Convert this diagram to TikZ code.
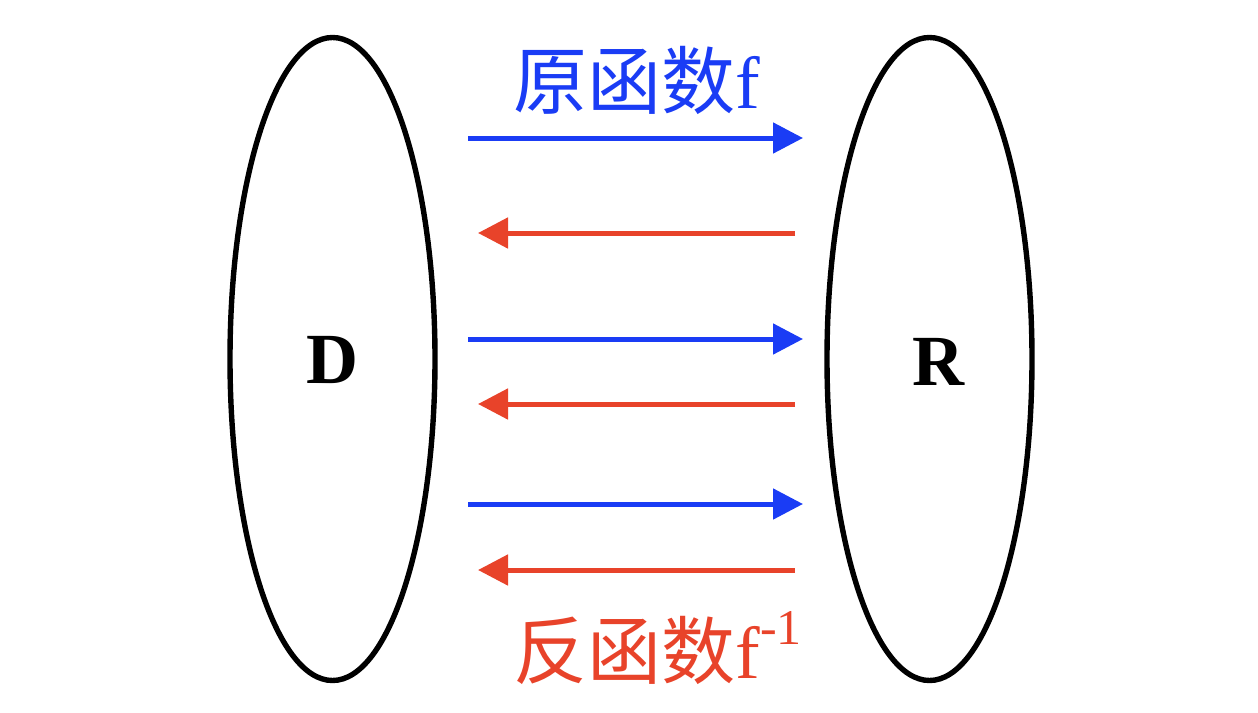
\documentclass[tikz,border=0pt]{standalone}
\usepackage{fontspec}
\setmainfont{Liberation Serif}
\newfontfamily\cjk{Noto Sans CJK SC}
\usetikzlibrary{arrows.meta,shapes.geometric}
\definecolor{fblue}{HTML}{1A3CF5}
\definecolor{fred}{HTML}{E8432A}
\tikzset{
  set/.style={draw, ellipse, line width=2.7pt, inner sep=0pt,
    minimum width=102.5pt, minimum height=321.5pt},
  letter/.style={font=\fontsize{36}{40}\selectfont\bfseries, inner sep=0pt},
  lab/.style={font=\fontsize{37}{42}\selectfont, inner sep=0pt, anchor=base west},
  fwd/.style={fblue, line width=2.5pt, -{Triangle[length=15pt,width=15pt]}},
  bwd/.style={fred, line width=2.5pt, -{Triangle[length=15pt,width=15pt]}}
}
\begin{document}
\begin{tikzpicture}[x=0.5pt,y=-0.5pt]
  \useasboundingbox (0,0) rectangle (1258,712);
  \node[set] (dom) at (332.5,359) {};
  \node[set] (ran) at (929.5,359) {};
  \node[letter] (dlab) at (332.5,360) {D};
  \node[letter] (rlab) at (938,362) {R};
  \node[lab, fblue] (ftxt) at (513,108) {{\cjk 原函数}f};
  \node[lab, fred] (gtxt) at (513,678)
    {{\cjk 反函数}f\raisebox{17pt}{\fontsize{25}{25}\selectfont -1}};
  \foreach \y [count=\i] in {138,339,504} {
    \coordinate (fa\i) at (468,\y);
    \coordinate (fb\i) at (803,\y);
    \draw[fwd] (fa\i) -- (fb\i);
  }
  \foreach \y [count=\i] in {233,404,570} {
    \coordinate (ba\i) at (795,\y);
    \coordinate (bb\i) at (478,\y);
    \draw[bwd] (ba\i) -- (bb\i);
  }
\end{tikzpicture}
\end{document}
